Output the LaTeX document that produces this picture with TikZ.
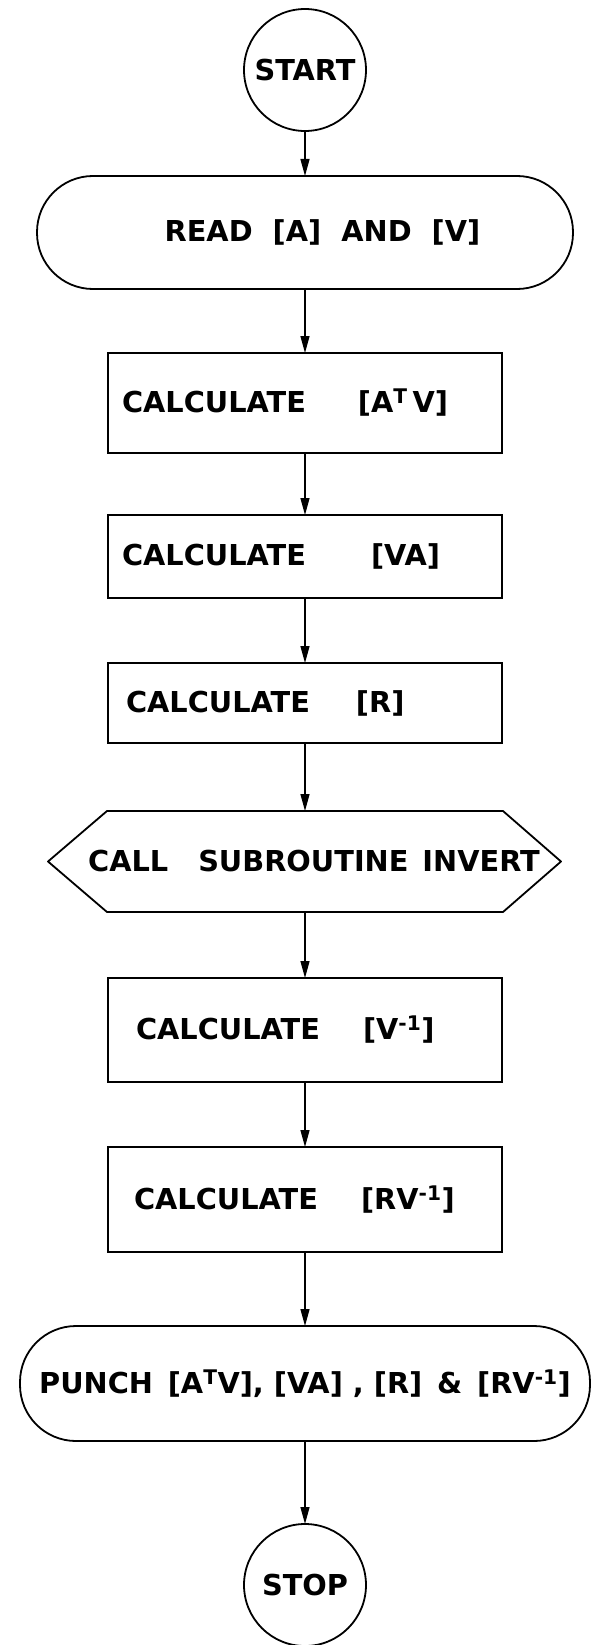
\documentclass[tikz,border=0pt]{standalone}
\usepackage{fontspec}
\setmainfont{DejaVu Sans}
\usetikzlibrary{positioning,arrows.meta}

\begin{document}
\begin{tikzpicture}[
    x=1pt, y=1pt,
    node distance=64pt,
    every node/.style={font=\fontsize{28.8}{34}\selectfont\bfseries, line width=1.8pt, outer sep=0pt},
    terminal/.style={circle, draw, minimum size=122pt, inner sep=0pt},
    io/.style={rectangle, draw, rounded corners=56pt, minimum height=113pt, align=center},
    calc/.style={rectangle, draw, minimum width=394pt, text width=366pt, inner xsep=14pt, align=left},
    call/.style={rectangle, minimum width=396pt, minimum height=101pt, inner sep=0pt},
    outline/.style={line width=1.8pt, line join=round},
    arrow/.style={-{Triangle[length=17pt, width=9pt]}, line width=1.3pt}
]
\useasboundingbox (0,0) rectangle (591,-1645);

% Main column
\node[terminal] (start) at (305,-70) {START};
\node[io, minimum width=536pt, below=45pt of start] (read) {\hspace*{35pt}READ\ \ [A] \ AND \ [V]};
\node[calc, minimum height=100pt, below=64pt of read] (atv) {CALCULATE\hspace{52pt}[A\textsuperscript{T}\,V]};
\node[calc, minimum height=83pt, below=62pt of atv] (va) {CALCULATE\hspace{65pt}[VA]};
\node[calc, minimum height=80pt, below=65pt of va] (r) {\hspace*{4pt}CALCULATE\hspace{46pt}[R]};
\node[call, below=68pt of r] (invert) {\makebox[0pt]{\hspace*{18pt}CALL\hspace{30pt}SUBROUTINE\hspace{14pt}INVERT}};
\node[calc, minimum height=104pt, below=66pt of invert] (vinv) {\hspace*{14pt}CALCULATE\hspace{43pt}[V\textsuperscript{-1}]};
\node[calc, minimum height=105pt, below=65pt of vinv] (rvinv) {\hspace*{12pt}CALCULATE\hspace{43pt}[RV\textsuperscript{-1}]};
\node[io, minimum width=570pt, minimum height=115pt, below=74pt of rvinv] (punch) {PUNCH \,[A\textsuperscript{T}V], [VA] , [R] \,\&\, [RV\textsuperscript{-1}]};
\node[terminal, below=83pt of punch] (stop) {STOP};

% Hexagon round the subroutine call
\draw[outline] (invert.north west) -- (invert.north east) -- ([xshift=58pt]invert.east)
    -- (invert.south east) -- (invert.south west) -- ([xshift=-59pt]invert.west) -- cycle;

% Arrows
\draw[arrow] (start) -- (read);
\draw[arrow] (read) -- (atv);
\draw[arrow] (atv) -- (va);
\draw[arrow] (va) -- (r);
\draw[arrow] (r) -- (invert);
\draw[arrow] (invert) -- (vinv);
\draw[arrow] (vinv) -- (rvinv);
\draw[arrow] (rvinv) -- (punch);
\draw[arrow] (punch) -- (stop);

\end{tikzpicture}
\end{document}
